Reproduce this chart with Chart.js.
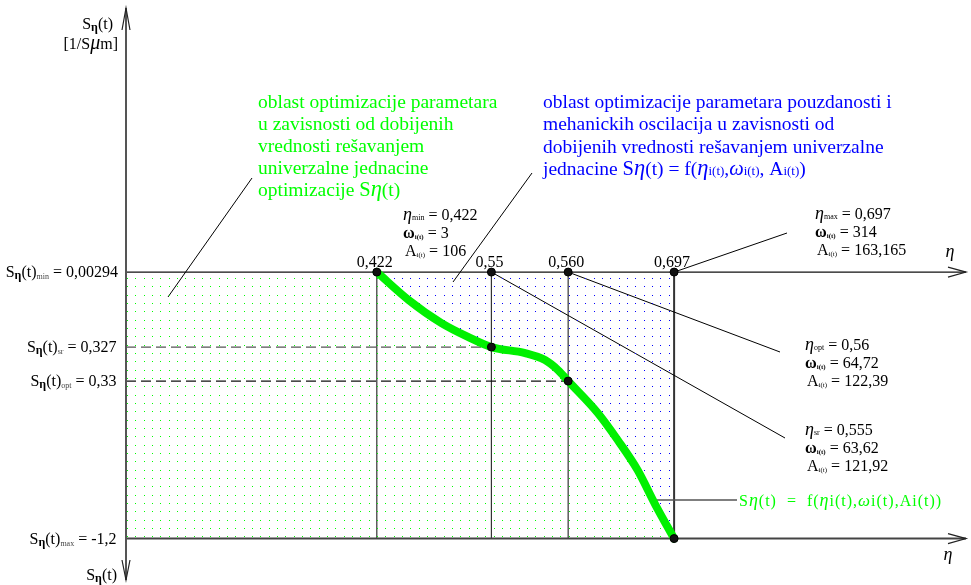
<!DOCTYPE html>
<html>
<head>
<meta charset="utf-8">
<script src="https://cdn.jsdelivr.net/npm/chart.js@4.4.1/dist/chart.umd.min.js"></script>
<style>
  html, body { margin: 0; padding: 0; background: #fff; }
  #wrap { width: 971px; height: 585px; }
</style>
</head>
<body>
<div id="wrap"><canvas id="c" width="971" height="585"></canvas></div>
<script>
// η ticks on the upper axis (the drawing is not to scale, each tick has its own place)
const etaLabels = ['0,422', '0,55', '0,560', '0,697'];
const etaPos = [0.422, 0.528, 0.599, 0.697];

// Sη(t) levels on the left axis
const sNames = ['min', 'sr', 'opt', 'max'];
const sLabels = ['0,00294', '0,327', '0,33', '-1,2'];
const sPos = [0.00294, -0.3356, -0.4891, -1.2];

// the curve Sη(t) = f(η)
const curveEta = [0.422, 0.4515, 0.4818, 0.5067, 0.528, 0.5592, 0.5776, 0.5896, 0.599, 0.6264, 0.6448, 0.6632, 0.6798, 0.697];
const curveS = [0.00294, -0.1234, -0.2273, -0.2905, -0.3356, -0.3627, -0.3943, -0.4394, -0.4891, -0.6335, -0.7554, -0.8908, -1.0488, -1.2];

// values written next to the points
const blockMin = ['0,422', '3', '106'];
const blockMax = ['0,697', '314', '163,165'];
const blockOpt = ['0,56', '64,72', '122,39'];
const blockSr = ['0,555', '63,62', '121,92'];

const greenText = ['oblast optimizacije parametara', 'u zavisnosti od dobijenih', 'vrednosti rešavanjem', 'univerzalne jednacine', 'optimizacije '];
const blueText = ['oblast optimizacije parametara pouzdanosti i', 'mehanickih oscilacija u zavisnosti od', 'dobijenih vrednosti rešavanjem univerzalne', 'jednacine '];

const X_MIN = 0.19, X_MAX = 0.967;
const GREEN = '#00ff00', BLUE = '#0000ff';
const FONT = '"Liberation Serif", "Times New Roman", serif';
const PARA = 19.5;

const ctx0 = document.getElementById('c').getContext('2d');
function dots(color) {
  // dot pitch of about 8.3 px, as in the drawing
  const c = document.createElement('canvas');
  c.width = 25; c.height = 25;
  const g = c.getContext('2d');
  g.fillStyle = color;
  [0, 8, 17].forEach(px => [0, 8, 17].forEach(py => g.fillRect(px + 2, py + 3, 1, 1)));
  return ctx0.createPattern(c, 'repeat');
}

const curve = curveEta.map((x, i) => ({ x, y: curveS[i] }));
const markers = etaPos.map(x => ({ x, y: sPos[0] }))
  .concat([{ x: etaPos[1], y: sPos[1] }, { x: etaPos[2], y: sPos[2] }, { x: etaPos[3], y: sPos[3] }]);

// rich text: list of {t, s(size), b, i, dy, c}
function rich(ctx, segs, x, y, align, color) {
  let w = 0;
  const f = s => (s.i ? 'italic ' : '') + (s.b ? 'bold ' : '') + s.s + 'px ' + (s.f || FONT);
  segs.forEach(s => { ctx.font = f(s); s.w = ctx.measureText(s.t).width; w += s.w; });
  let cx = align === 'right' ? x - w : align === 'center' ? x - w / 2 : x;
  ctx.textAlign = 'left';
  ctx.textBaseline = 'alphabetic';
  segs.forEach(s => {
    ctx.font = f(s);
    ctx.fillStyle = s.c || color || '#000';
    ctx.fillText(s.t, cx, y + (s.dy || 0));
    cx += s.w;
  });
}

function line(ctx, x1, y1, x2, y2, color, width, dash) {
  ctx.save();
  ctx.strokeStyle = color; ctx.lineWidth = width;
  ctx.setLineDash(dash || []);
  ctx.beginPath(); ctx.moveTo(x1, y1); ctx.lineTo(x2, y2); ctx.stroke();
  ctx.restore();
}

function arrow(ctx, x, y, dir) {
  // open arrow head, dir: 'up', 'down', 'right'
  ctx.save();
  ctx.strokeStyle = '#222'; ctx.lineWidth = 1.2;
  ctx.beginPath();
  if (dir === 'up') { ctx.moveTo(x - 4, y + 22); ctx.lineTo(x, y); ctx.lineTo(x + 4, y + 22); }
  if (dir === 'down') { ctx.moveTo(x - 4, y - 20); ctx.lineTo(x, y); ctx.lineTo(x + 4, y - 20); }
  if (dir === 'right') { ctx.moveTo(x - 18, y - 5); ctx.lineTo(x, y); ctx.lineTo(x - 18, y + 5); }
  ctx.stroke();
  ctx.restore();
}

const frame = {
  id: 'frame',
  beforeDatasetsDraw(chart) {
    const { ctx, chartArea: a, scales: { x, y } } = chart;
    const yTop = y.getPixelForValue(sPos[0]);
    const yBot = y.getPixelForValue(sPos[3]);
    // vertical lines from the η ticks
    etaPos.forEach((e, i) => {
      const px = x.getPixelForValue(e);
      line(ctx, px, yTop, px, yBot, '#333', i === 3 ? 2 : 1.2);
    });
    // dashed levels
    line(ctx, a.left, y.getPixelForValue(sPos[1]), x.getPixelForValue(etaPos[1]), y.getPixelForValue(sPos[1]), '#555', 1.2, [10, 5]);
    line(ctx, a.left, y.getPixelForValue(sPos[2]), x.getPixelForValue(etaPos[2]), y.getPixelForValue(sPos[2]), '#111', 1.2, [10, 5]);
    // axes
    line(ctx, a.left, yTop, a.right, yTop, '#111', 1.2);
    line(ctx, a.left, yBot, a.right, yBot, '#444', 2);
    line(ctx, a.left, a.top, a.left, a.bottom, '#555', 2);
    arrow(ctx, a.left, a.top, 'up');
    arrow(ctx, a.left, a.bottom, 'down');
    arrow(ctx, a.right, yTop, 'right');
    arrow(ctx, a.right, yBot, 'right');
    // leader lines
    line(ctx, x.getPixelForValue(etaPos[3]), yTop, 787, 233, '#000', 1);
    line(ctx, x.getPixelForValue(etaPos[2]), yTop, 780, 352, '#000', 1);
    line(ctx, x.getPixelForValue(etaPos[1]), yTop, 785, 438, '#000', 1);
    line(ctx, 168, 297, 252, 178, '#000', 1);
    line(ctx, 453, 282, 532, 173, '#000', 1);
    line(ctx, 657, 500, 737, 500, '#555', 1.5);
  },
  afterDraw(chart) {
    const { ctx, scales: { x, y } } = chart;
    // left axis title
    rich(ctx, [{ t: 'S', s: 16 }, { t: 'η', s: 12, b: true, dy: 2 }, { t: '(t)', s: 16 }], 113, 29, 'right');
    rich(ctx, [{ t: '[1/S', s: 16 }, { t: 'μ', s: 20, i: true }, { t: 'm]', s: 16 }], 118, 49, 'right');
    rich(ctx, [{ t: 'S', s: 16 }, { t: 'η', s: 12, b: true, dy: 2 }, { t: '(t)', s: 16 }], 117, 580, 'right');
    // level labels
    sPos.forEach((v, i) => {
      rich(ctx, [{ t: 'S', s: 16 }, { t: 'η', s: 12, b: true, dy: 2 }, { t: '(t)', s: 16 },
        { t: sNames[i], s: 8, dy: 2, c: '#444' }, { t: ' = ' + sLabels[i], s: 16 }],
        i === 0 ? 118 : 116.5, y.getPixelForValue(v) + 5, 'right');
    });
    // η tick labels
    etaLabels.forEach((l, i) => {
      rich(ctx, [{ t: l, s: 16 }], x.getPixelForValue(etaPos[i]) - 2, 267, 'center');
    });
    // η axis names
    rich(ctx, [{ t: 'η', s: 18, i: true }], 950, 257, 'center');
    rich(ctx, [{ t: 'η', s: 18, i: true }], 948, 560, 'center');
    // value blocks
    function block(vals, name, x0, y0) {
      rich(ctx, [{ t: 'η', s: 18, i: true }, { t: name, s: 8 }, { t: ' = ' + vals[0], s: 16 }], x0, y0);
      rich(ctx, [{ t: 'ω', s: 16, b: true }, { t: 'i(t)', s: 7, b: true, dy: 1 }, { t: ' = ' + vals[1], s: 16 }], x0, y0 + 18);
      rich(ctx, [{ t: 'A', s: 16 }, { t: 'i(t)', s: 7, dy: 1 }, { t: ' = ' + vals[2], s: 16 }], x0 + 2, y0 + 36);
    }
    block(blockMin, 'min', 403, 220);
    block(blockMax, 'max', 815, 219);
    block(blockOpt, 'opt', 805, 350);
    block(blockSr, 'sr', 805, 435);
    // green text
    greenText.forEach((t, i) => {
      const segs = [{ t, s: PARA }];
      if (i === 4) segs.push({ t: 'S', s: PARA + 1 }, { t: 'η', s: PARA + 3, i: true }, { t: '(t)', s: PARA });
      rich(ctx, segs, 258, 108 + i * 22, 'left', GREEN);
    });
    // blue text
    blueText.forEach((t, i) => {
      const segs = [{ t, s: PARA }];
      if (i === 3) segs.push({ t: 'S', s: PARA + 1 }, { t: 'η', s: PARA + 3, i: true }, { t: '(t) = f(', s: PARA },
        { t: 'η', s: PARA + 3, i: true }, { t: 'i(t)', s: 13 }, { t: ',', s: PARA }, { t: 'ω', s: PARA + 1, i: true },
        { t: 'i(t)', s: 13 }, { t: ', A', s: PARA }, { t: 'i(t)', s: 13 }, { t: ')', s: PARA });
      rich(ctx, segs, 543, 108 + i * 22.3, 'left', BLUE);
    });
    // formula on the curve
    ctx.save();
    ctx.letterSpacing = '1px';
    rich(ctx, [{ t: 'S', s: 16 }, { t: 'η', s: 18, i: true }, { t: '(t)  =  f(', s: 16 }, { t: 'η', s: 18, i: true },
      { t: 'i(t),', s: 16 }, { t: 'ω', s: 17, i: true }, { t: 'i(t),Ai(t))', s: 16 }], 739, 506, 'left', GREEN);
    ctx.restore();
  }
};

new Chart('c', {
  type: 'line',
  data: {
    datasets: [
      { data: markers, showLine: false, pointRadius: 4, pointBackgroundColor: '#111', pointBorderColor: '#000', order: 0 },
      { data: curve, borderColor: '#00f000', borderWidth: 8, borderCapStyle: 'round', pointRadius: 0,
        cubicInterpolationMode: 'monotone', fill: { value: sPos[3] }, backgroundColor: dots(GREEN), order: 1 },
      { data: curve, borderWidth: 0, borderColor: 'rgba(0,0,0,0)', pointRadius: 0, cubicInterpolationMode: 'monotone',
        fill: { value: sPos[0] }, backgroundColor: dots(BLUE), order: 2 },
      { data: [{ x: X_MIN, y: sPos[0] }, { x: etaPos[0], y: sPos[0] }], borderWidth: 0, borderColor: 'rgba(0,0,0,0)',
        pointRadius: 0, fill: { value: sPos[3] }, backgroundColor: dots(GREEN), order: 2 }
    ]
  },
  options: {
    responsive: false,
    devicePixelRatio: 1,
    animation: false,
    layout: { padding: { left: 126, right: 1, top: 8, bottom: 5 } },
    scales: {
      x: { type: 'linear', min: X_MIN, max: X_MAX, display: false },
      y: { type: 'linear', min: -1.387, max: 1.195, display: false }
    },
    plugins: { legend: { display: false }, tooltip: { enabled: false } }
  },
  plugins: [frame]
});
</script>
</body>
</html>
